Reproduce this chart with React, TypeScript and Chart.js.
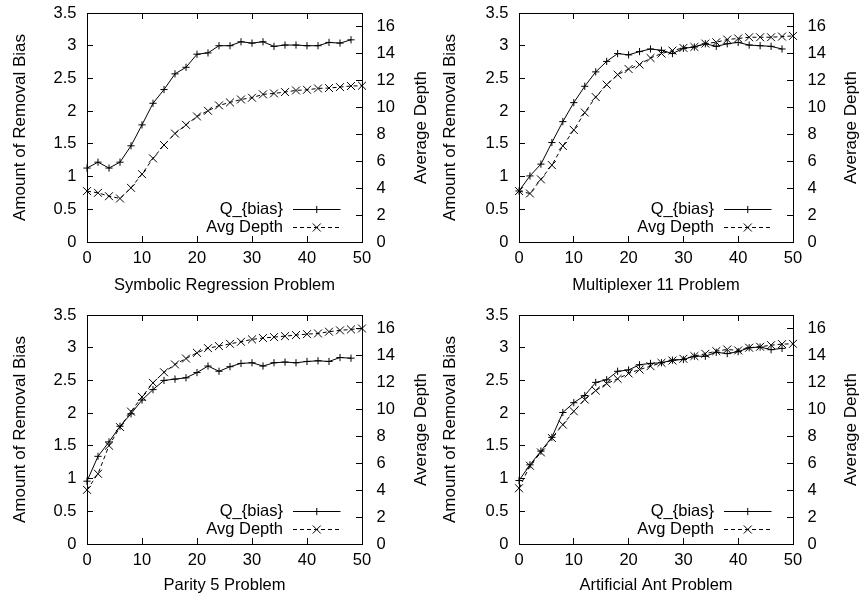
import React, { useEffect, useRef } from "react";
import { Chart, registerables } from "chart.js";

Chart.register(...registerables);

const FONT = "'Liberation Sans', Arial, Helvetica, sans-serif";

// ---- data ----
const qGenerations = [0, 2, 4, 6, 8, 10, 12, 14, 16, 18, 20, 22, 24, 26, 28, 30, 32, 34, 36, 38, 40, 42, 44, 46, 48];
const depthGenerations = [0, 2, 4, 6, 8, 10, 12, 14, 16, 18, 20, 22, 24, 26, 28, 30, 32, 34, 36, 38, 40, 42, 44, 46, 48, 50];

const xTicks = [0, 10, 20, 30, 40, 50];
const biasTicks = [0, 0.5, 1, 1.5, 2, 2.5, 3, 3.5];
const depthTicks = [0, 2, 4, 6, 8, 10, 12, 14, 16];

const seriesLabels = ["Q_{bias}", "Avg Depth"];
const leftAxisTitle = "Amount of Removal Bias";
const rightAxisTitle = "Average Depth";

const symRegQ = [1.13, 1.22, 1.13, 1.22, 1.47, 1.79, 2.12, 2.33, 2.57, 2.67, 2.87, 2.89, 3.0, 3.0, 3.06, 3.04, 3.06, 2.99, 3.01, 3.01, 3.0, 3.0, 3.05, 3.04, 3.09];
const symRegDepth = [3.78, 3.65, 3.4, 3.23, 4.02, 5.04, 6.21, 7.2, 8.05, 8.7, 9.32, 9.74, 10.14, 10.36, 10.58, 10.71, 10.96, 11.03, 11.13, 11.25, 11.3, 11.4, 11.43, 11.5, 11.58, 11.6];

const mux11Q = [0.78, 1.01, 1.19, 1.52, 1.84, 2.13, 2.38, 2.6, 2.76, 2.88, 2.86, 2.91, 2.95, 2.93, 2.88, 2.96, 2.98, 3.03, 2.99, 3.03, 3.05, 3.01, 3.0, 2.99, 2.95];
const mux11Depth = [3.78, 3.6, 4.65, 5.71, 7.13, 8.32, 9.61, 10.76, 11.68, 12.42, 12.84, 13.17, 13.66, 13.99, 14.21, 14.41, 14.48, 14.73, 14.83, 15.03, 15.11, 15.2, 15.2, 15.2, 15.25, 15.3];

const parity5Q = [0.96, 1.34, 1.56, 1.8, 1.99, 2.2, 2.36, 2.5, 2.52, 2.54, 2.62, 2.72, 2.64, 2.71, 2.76, 2.77, 2.72, 2.77, 2.78, 2.77, 2.79, 2.8, 2.79, 2.85, 2.84];
const parity5Depth = [4.02, 5.21, 7.3, 8.68, 9.83, 10.92, 11.96, 12.75, 13.33, 13.77, 14.19, 14.54, 14.69, 14.86, 15.01, 15.19, 15.29, 15.36, 15.43, 15.51, 15.58, 15.63, 15.76, 15.86, 15.93, 16.0];

const antQ = [0.97, 1.21, 1.42, 1.63, 2.01, 2.16, 2.27, 2.47, 2.51, 2.64, 2.66, 2.74, 2.76, 2.77, 2.81, 2.82, 2.87, 2.87, 2.93, 2.91, 2.94, 3.0, 3.01, 2.97, 2.99];
const antDepth = [4.14, 5.81, 6.8, 7.87, 8.86, 9.85, 10.72, 11.39, 11.91, 12.26, 12.66, 12.95, 13.2, 13.45, 13.62, 13.75, 13.95, 14.12, 14.32, 14.44, 14.37, 14.57, 14.64, 14.76, 14.84, 14.86];

// ---- layout of the four panels ----
type PanelCfg = {
  title: string;
  q: number[];
  depth: number[];
  left: number;
  top: number;
  w: number;
  h: number;
  areaLeft: number;
  areaRight: number;
  areaTop: number;
  areaBottom: number;
  rightTitleX: number;
  xTickPad: number;
  xTitlePad: number;
};

const panels: PanelCfg[] = [
  { title: "Symbolic Regression Problem", q: symRegQ, depth: symRegDepth, left: 0, top: 0, w: 430, h: 300, areaLeft: 87, areaRight: 362, areaTop: 13, areaBottom: 242, rightTitleX: 421.7, xTickPad: 7, xTitlePad: 5 },
  { title: "Multiplexer 11 Problem", q: mux11Q, depth: mux11Depth, left: 430, top: 0, w: 429, h: 300, areaLeft: 89, areaRight: 363, areaTop: 13, areaBottom: 242, rightTitleX: 421.7, xTickPad: 7, xTitlePad: 5 },
  { title: "Parity 5 Problem", q: parity5Q, depth: parity5Depth, left: 0, top: 300, w: 430, h: 299, areaLeft: 87, areaRight: 362, areaTop: 15, areaBottom: 244, rightTitleX: 421.7, xTickPad: 6.5, xTitlePad: 3.5 },
  { title: "Artificial Ant Problem", q: antQ, depth: antDepth, left: 430, top: 300, w: 429, h: 299, areaLeft: 89, areaRight: 363, areaTop: 15, areaBottom: 244, rightTitleX: 421.7, xTickPad: 6.5, xTitlePad: 3.5 },
];

const TICK_IN = -6; // negative tick length: tick marks point into the plot

function drawMarker(ctx: CanvasRenderingContext2D, kind: string, x: number, y: number) {
  ctx.beginPath();
  if (kind === "plus") {
    const r = 3.6;
    ctx.moveTo(x - r, y);
    ctx.lineTo(x + r, y);
    ctx.moveTo(x, y - r);
    ctx.lineTo(x, y + r);
  } else {
    const r = 4;
    ctx.moveTo(x - r, y - r);
    ctx.lineTo(x + r, y + r);
    ctx.moveTo(x - r, y + r);
    ctx.lineTo(x + r, y - r);
  }
  ctx.setLineDash([]);
  ctx.stroke();
}

const gnuplotDecor = {
  id: "gnuplotDecor",
  afterDraw(chart: any, _args: any, opts: any) {
    const ctx: CanvasRenderingContext2D = chart.ctx;
    const { right, top, bottom } = chart.chartArea;
    ctx.save();
    ctx.strokeStyle = "#000";
    ctx.lineWidth = 1;

    // right axis title, reading bottom to top
    ctx.save();
    ctx.fillStyle = "#000";
    ctx.font = `17px ${FONT}`;
    ctx.textAlign = "center";
    ctx.textBaseline = "middle";
    ctx.translate(opts.rightTitleX, (top + bottom) / 2);
    ctx.rotate(-Math.PI / 2);
    ctx.fillText(rightAxisTitle, 0, 0);
    ctx.restore();

    // legend (gnuplot style: text, then line sample with marker)
    const lineEnd = right - 21.5;
    const lineStart = lineEnd - 47.5;
    const rows = [bottom - 32.5, bottom - 14.5];
    chart.data.datasets.forEach((ds: any, i: number) => {
      const yy = rows[i];
      ctx.fillStyle = "#000";
      ctx.font = `16.5px ${FONT}`;
      ctx.textAlign = "right";
      ctx.textBaseline = "middle";
      ctx.fillText(ds.label, lineStart - 10, yy);
      ctx.beginPath();
      ctx.setLineDash(ds.borderDash || []);
      ctx.moveTo(lineStart, yy);
      ctx.lineTo(lineEnd, yy);
      ctx.stroke();
      drawMarker(ctx, i === 0 ? "plus" : "cross", (lineStart + lineEnd) / 2, yy);
    });
    ctx.restore();
  },
};

function zeroPad(s: any) {
  s.paddingTop = 0;
  s.paddingBottom = 0;
  s.paddingLeft = 0;
  s.paddingRight = 0;
}

function Panel({ cfg }: { cfg: PanelCfg }) {
  const ref = useRef<HTMLCanvasElement | null>(null);
  useEffect(() => {
    const canvas = ref.current;
    if (!canvas) return;
    const tickFont = { family: FONT, size: 16.5 };
    const innerGrid = { display: true, drawOnChartArea: false, drawTicks: true, tickLength: TICK_IN, color: "#000", lineWidth: 1 };
    const frameBorder = { display: true, color: "#000", width: 1 };
    const chart = new Chart(canvas, {
      type: "line",
      data: {
        datasets: [
          {
            label: seriesLabels[0],
            data: cfg.q.map((v, i) => ({ x: qGenerations[i], y: v })),
            xAxisID: "x",
            yAxisID: "y",
            borderColor: "#000",
            backgroundColor: "#000",
            borderWidth: 1,
            pointStyle: "cross",
            pointRadius: 3.6,
            pointBorderWidth: 1,
            pointBorderColor: "#000",
            tension: 0,
            fill: false,
            clip: false,
          },
          {
            label: seriesLabels[1],
            data: cfg.depth.map((v, i) => ({ x: depthGenerations[i], y: v })),
            xAxisID: "x",
            yAxisID: "y2",
            borderColor: "#000",
            backgroundColor: "#000",
            borderWidth: 1,
            borderDash: [4, 3],
            pointStyle: "crossRot",
            pointRadius: 5.6,
            pointBorderWidth: 1,
            pointBorderColor: "#000",
            tension: 0,
            fill: false,
            clip: false,
          },
        ],
      },
      options: {
        responsive: false,
        animation: false,
        devicePixelRatio: 1,
        events: [],
        layout: { padding: { top: 0, left: 0, right: 0, bottom: 0 }, autoPadding: false },
        plugins: {
          legend: { display: false },
          tooltip: { enabled: false },
          gnuplotDecor: { rightTitleX: cfg.rightTitleX },
        } as any,
        scales: {
          x: {
            type: "linear",
            position: "bottom",
            min: 0,
            max: 50,
            afterBuildTicks: (s: any) => {
              s.ticks = xTicks.map((v) => ({ value: v }));
            },
            afterFit: (s: any) => {
              s.height = cfg.h - cfg.areaBottom;
              zeroPad(s);
            },
            grid: innerGrid,
            border: frameBorder,
            ticks: { color: "#000", font: tickFont, padding: cfg.xTickPad - TICK_IN, maxRotation: 0, autoSkip: false, callback: (v: any) => String(v) },
            title: { display: true, text: cfg.title, color: "#000", font: tickFont, padding: { top: 0, bottom: cfg.xTitlePad } },
          },
          xTop: {
            type: "linear",
            position: "top",
            min: 0,
            max: 50,
            afterBuildTicks: (s: any) => {
              s.ticks = xTicks.map((v) => ({ value: v }));
            },
            afterFit: (s: any) => {
              s.height = cfg.areaTop;
              zeroPad(s);
            },
            grid: innerGrid,
            border: frameBorder,
            ticks: { display: false },
          },
          y: {
            type: "linear",
            position: "left",
            min: 0,
            max: 3.5,
            afterBuildTicks: (s: any) => {
              s.ticks = biasTicks.map((v) => ({ value: v }));
            },
            afterFit: (s: any) => {
              s.width = cfg.areaLeft;
              zeroPad(s);
            },
            grid: innerGrid,
            border: frameBorder,
            ticks: { color: "#000", font: tickFont, padding: 10.5 - TICK_IN, autoSkip: false, callback: (v: any) => String(v) },
            title: { display: true, text: leftAxisTitle, color: "#000", font: { family: FONT, size: 17 }, padding: { top: 10.3, bottom: 0 } },
          },
          y2: {
            type: "linear",
            position: "right",
            min: 0,
            max: 17,
            afterBuildTicks: (s: any) => {
              s.ticks = depthTicks.map((v) => ({ value: v }));
            },
            afterFit: (s: any) => {
              s.width = cfg.w - cfg.areaRight;
              zeroPad(s);
            },
            grid: innerGrid,
            border: frameBorder,
            ticks: { color: "#000", font: tickFont, padding: 14.5 - TICK_IN, autoSkip: false, callback: (v: any) => String(v) },
          },
        },
      } as any,
      plugins: [gnuplotDecor as any],
    });
    return () => chart.destroy();
  }, [cfg]);
  return (
    <canvas
      ref={ref}
      width={cfg.w}
      height={cfg.h}
      style={{ position: "absolute", left: cfg.left, top: cfg.top, width: cfg.w, height: cfg.h }}
    />
  );
}

export default function App() {
  return (
    <div style={{ position: "fixed", left: 0, top: 0, width: 859, height: 599, background: "#fff", overflow: "hidden" }}>
      {panels.map((p, i) => (
        <Panel key={i} cfg={p} />
      ))}
    </div>
  );
}
